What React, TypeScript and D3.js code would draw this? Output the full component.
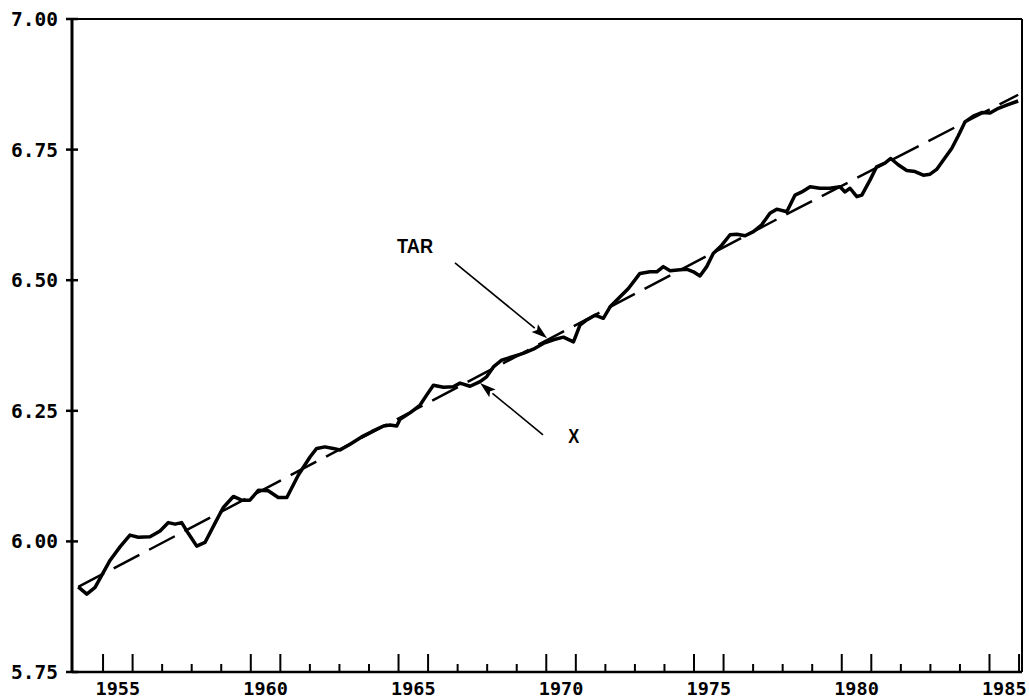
import React, { useEffect, useRef } from 'react'
import * as d3 from 'd3'

// X series (year, value)
const xYears = [
    1954.16, 1954.45, 1954.73, 1955.24, 1955.58, 1955.91, 1956.19, 1956.59, 1956.93, 1957.21,
    1957.44, 1957.66, 1957.89, 1958.17, 1958.45, 1958.79, 1959.07, 1959.41, 1959.69, 1959.97,
    1960.26, 1960.59, 1960.93, 1961.22, 1961.61, 1962.01, 1962.23, 1962.51, 1962.79, 1963.02,
    1963.36, 1963.75, 1964.09, 1964.49, 1964.71, 1964.94, 1965.05, 1965.39, 1965.73, 1965.95,
    1966.18, 1966.52, 1966.85, 1967.08, 1967.42, 1967.76, 1967.98, 1968.21, 1968.49, 1968.89,
    1969.22, 1969.56, 1969.9, 1970.24, 1970.58, 1970.92, 1971.14, 1971.37, 1971.65, 1971.93,
    1972.16, 1972.44, 1972.78, 1973.17, 1973.51, 1973.74, 1973.96, 1974.19, 1974.53, 1974.75,
    1974.98, 1975.2, 1975.43, 1975.65, 1975.94, 1976.22, 1976.45, 1976.73, 1977.01, 1977.29,
    1977.57, 1977.8, 1978.14, 1978.42, 1978.65, 1978.93, 1979.26, 1979.6, 1979.94, 1980.11,
    1980.28, 1980.51, 1980.68, 1980.96, 1981.18, 1981.46, 1981.66, 1981.91, 1982.2, 1982.48,
    1982.76, 1982.99, 1983.21, 1983.44, 1983.72, 1983.94, 1984.17, 1984.45, 1984.74, 1985.02,
    1985.3, 1985.58, 1985.97,
]
const xValues = [
    5.913, 5.899, 5.912, 5.964, 5.99, 6.012, 6.008, 6.009, 6.02, 6.036,
    6.033, 6.036, 6.015, 5.991, 5.998, 6.035, 6.065, 6.086, 6.079, 6.079,
    6.098, 6.097, 6.084, 6.084, 6.127, 6.162, 6.178, 6.181, 6.178, 6.175,
    6.186, 6.2, 6.21, 6.221, 6.223, 6.221, 6.234, 6.246, 6.261, 6.28,
    6.299, 6.295, 6.296, 6.303, 6.297, 6.306, 6.315, 6.334, 6.347, 6.354,
    6.36, 6.368, 6.379, 6.386, 6.391, 6.382, 6.414, 6.424, 6.433, 6.427,
    6.449, 6.465, 6.484, 6.513, 6.516, 6.516, 6.526, 6.518, 6.52, 6.521,
    6.516, 6.508, 6.526, 6.551, 6.567, 6.587, 6.588, 6.585, 6.593, 6.606,
    6.628, 6.636, 6.631, 6.663, 6.669, 6.679, 6.676, 6.676, 6.679, 6.669,
    6.676, 6.66, 6.663, 6.692, 6.717, 6.724, 6.733, 6.721, 6.71, 6.708,
    6.701, 6.703, 6.712, 6.73, 6.752, 6.776, 6.803, 6.814, 6.821, 6.82,
    6.829, 6.835, 6.843,
]

// TAR (target path), nearly straight
const tarYears = [1954.16, 1955.35, 1973.24, 1978.02, 1985.97]
const tarValues = [5.913, 5.948, 6.481, 6.623, 6.855]

const yTicks = [5.75, 6.0, 6.25, 6.5, 6.75, 7.0]
const labelYears = [1955, 1960, 1965, 1970, 1975, 1980, 1985]

const width = 1029
const height = 700

const App = () => {
    const ref = useRef<SVGSVGElement>(null)

    useEffect(() => {
        const svg = d3.select(ref.current)
        svg.selectAll('*').remove()

        const x = d3.scaleLinear().domain([1954, 1986.1]).range([73.5, 1022])
        const y = d3.scaleLinear().domain([5.75, 7.0]).range([672, 19])
        const font = '"DejaVu Sans Mono", monospace'

        // frame
        svg.append('line').attr('x1', x(1954)).attr('x2', 1022).attr('y1', y(7)).attr('y2', y(7))
            .attr('stroke', '#000').attr('stroke-width', 2)
        svg.append('line').attr('x1', 1022).attr('x2', 1022).attr('y1', y(7)).attr('y2', y(5.75))
            .attr('stroke', '#000').attr('stroke-width', 2)
        svg.append('line').attr('x1', 72).attr('x2', 72).attr('y1', y(7)).attr('y2', y(5.75) + 1)
            .attr('stroke', '#000').attr('stroke-width', 3)
        svg.append('line').attr('x1', 72).attr('x2', 1022).attr('y1', y(5.75)).attr('y2', y(5.75))
            .attr('stroke', '#000').attr('stroke-width', 2.5)

        // y ticks and labels
        svg.selectAll('.ytick').data(yTicks).join('line')
            .attr('x1', 66).attr('x2', 78)
            .attr('y1', d => y(d)).attr('y2', d => y(d))
            .attr('stroke', '#000').attr('stroke-width', 2.5)
        svg.selectAll('.ylab').data(yTicks).join('text')
            .attr('x', 58).attr('y', d => y(d))
            .attr('dy', '0.36em')
            .attr('text-anchor', 'end')
            .style('font-family', font).style('font-weight', 'bold').style('font-size', '19.5px')
            .text(d => d3.format('.2f')(d))

        // x ticks: tall at labelled years and the year after, short otherwise
        const tall = new Set<number>()
        labelYears.forEach(yr => { tall.add(yr); tall.add(yr + 1) })
        const tickYears = d3.range(1955, 1987)
        svg.selectAll('.xtick').data(tickYears).join('line')
            .attr('x1', d => x(d)).attr('x2', d => x(d))
            .attr('y1', y(5.75)).attr('y2', d => y(5.75) - (tall.has(d) ? 18 : 8))
            .attr('stroke', '#000').attr('stroke-width', 2)
        svg.selectAll('.xlab').data(labelYears).join('text')
            .attr('x', d => x(d + 0.5)).attr('y', 695)
            .attr('text-anchor', 'middle')
            .style('font-family', font).style('font-weight', 'bold').style('font-size', '18.5px')
            .text(d => String(d))

        // TAR dashed
        const tarLine = d3.line<number>().x((_, i) => x(tarYears[i])).y(d => y(d))
        svg.append('path').attr('d', tarLine(tarValues))
            .attr('fill', 'none').attr('stroke', '#000').attr('stroke-width', 2.5)
            .attr('stroke-dasharray', '29,11')

        // X solid
        const xLine = d3.line<number>().x((_, i) => x(xYears[i])).y(d => y(d))
        svg.append('path').attr('d', xLine(xValues))
            .attr('fill', 'none').attr('stroke', '#000').attr('stroke-width', 3.5)
            .attr('stroke-linejoin', 'round')

        // annotations
        const notes = [
            { text: 'TAR', tx: 1964.95, ty: 6.552, from: [1966.91, 6.533], to: [1970.03, 6.389] },
            { text: 'X', tx: 1970.74, ty: 6.188, from: [1969.89, 6.204], to: [1967.76, 6.303] },
        ]
        notes.forEach(n => {
            const x1 = x(n.from[0]), y1 = y(n.from[1])
            const x2 = x(n.to[0]), y2 = y(n.to[1])
            const ang = Math.atan2(y2 - y1, x2 - x1)
            const len = 16, half = 5
            const bx = x2 - len * Math.cos(ang), by = y2 - len * Math.sin(ang)
            svg.append('line')
                .attr('x1', x1).attr('y1', y1).attr('x2', bx).attr('y2', by)
                .attr('stroke', '#000').attr('stroke-width', 1.6)
            const head = [
                [x2, y2],
                [bx + half * Math.sin(ang), by - half * Math.cos(ang)],
                [bx + 3 * Math.cos(ang), by + 3 * Math.sin(ang)],
                [bx - half * Math.sin(ang), by + half * Math.cos(ang)],
            ]
            svg.append('polygon').attr('points', head.map(p => p.join(',')).join(' '))
                .attr('fill', '#000')
            svg.append('text')
                .attr('x', x(n.tx)).attr('y', y(n.ty))
                .style('font-family', '"Liberation Sans", sans-serif').style('font-weight', 'bold')
                .style('font-size', '21px')
                .attr('textLength', n.text === 'TAR' ? 36 : 11)
                .attr('lengthAdjust', 'spacingAndGlyphs')
                .text(n.text)
        })
    }, [])

    return (
        <svg ref={ref} width={width} height={height}
            style={{ position: 'absolute', left: 0, top: 0, background: '#fff' }} />
    )
}

export default App
